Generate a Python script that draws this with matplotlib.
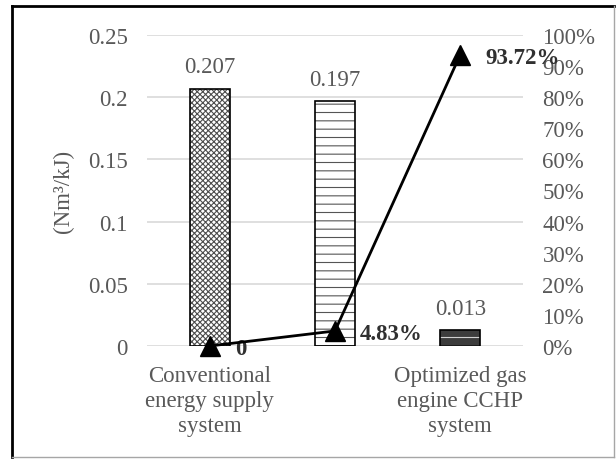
import matplotlib

matplotlib.use("Agg")

import matplotlib.pyplot as plt
from matplotlib.lines import Line2D
from matplotlib.ticker import MultipleLocator, PercentFormatter

# values
categories = ["Conventional\nenergy supply\nsystem", "", "Optimized gas\nengine CCHP\nsystem"]
consumption = [0.207, 0.197, 0.013]
consumption_labels = ["0.207", "0.197", "0.013"]
saving_rate = [0.0, 4.83, 93.72]
saving_labels = ["0", "4.83%", "93.72%"]

FONT = "Liberation Serif"
FONT_SIZE = 16.5
TICK_GRAY = "#595959"
GRID_GRAY = "#d9d9d9"

plt.rcParams["font.family"] = [FONT, "DejaVu Serif"]
plt.rcParams["font.size"] = FONT_SIZE
plt.rcParams["hatch.linewidth"] = 0.8

fig = plt.figure(figsize=(6.16, 4.60), dpi=100)
ax = fig.add_axes([0.2386, 0.2457, 0.6104, 0.676])
ax2 = ax.twinx()

x = list(range(len(categories)))
bar_width = 0.32

# bar 1: dense cross hatch, bar 2: dashes, bar 3: dark with white dashes
ax.bar(x[0], consumption[0], width=bar_width, facecolor="white",
       edgecolor="#4d4d4d", hatch="xxxxxx", linewidth=0, zorder=3)
ax.bar(x[1], consumption[1], width=bar_width, facecolor="white",
       edgecolor="#555555", hatch="--", linewidth=0, zorder=3)
ax.bar(x[2], consumption[2], width=bar_width, facecolor="#3c3c3c",
       edgecolor="#d0d0d0", hatch="--", linewidth=0, zorder=3)
ax.bar(x, consumption, width=bar_width, facecolor="none",
       edgecolor="black", linewidth=1.2, zorder=3)

for xi, val, txt in zip(x, consumption, consumption_labels):
    ax.annotate(txt, (xi, val), xytext=(0, 8), textcoords="offset points",
                ha="center", va="bottom", color=TICK_GRAY, fontsize=FONT_SIZE)

ax.set_xlim(-0.5, 2.5)
ax.set_ylim(0, 0.25)
ax.set_yticks([0, 0.05, 0.1, 0.15, 0.2, 0.25])
ax.set_yticklabels(["0", "0.05", "0.1", "0.15", "0.2", "0.25"])
ax.set_xticks(x)
ax.set_xticklabels(categories, linespacing=1.25)
ax.tick_params(axis="both", length=0, colors=TICK_GRAY, labelsize=FONT_SIZE)
ax.tick_params(axis="y", pad=14)
ax.tick_params(axis="x", pad=14)
ax.grid(axis="y", color=GRID_GRAY, linewidth=1.2, zorder=0)
ax.set_axisbelow(True)
for spine in ax.spines.values():
    spine.set_visible(False)
ax.set_ylabel("(Nm³/kJ)", color=TICK_GRAY, fontsize=FONT_SIZE, labelpad=10)

# secondary axis: saving rate line
ax2.plot(x, saving_rate, color="black", linewidth=2, marker="^",
         markersize=14, zorder=5, clip_on=False)
for xi, val, txt in zip(x, saving_rate, saving_labels):
    ax2.annotate(txt, (xi, val), xytext=(18, -2), textcoords="offset points",
                 ha="left", va="center", color="#303030", fontweight="bold",
                 fontsize=FONT_SIZE)
ax2.set_ylim(0, 100)
ax2.yaxis.set_major_locator(MultipleLocator(10))
ax2.yaxis.set_major_formatter(PercentFormatter(decimals=0))
ax2.tick_params(axis="y", length=0, colors=TICK_GRAY, labelsize=FONT_SIZE, pad=14)
for spine in ax2.spines.values():
    spine.set_visible(False)
ax.set_zorder(1)
ax2.set_zorder(2)
ax2.patch.set_visible(False)

# outer frame
fig.add_artist(Line2D([0.019, 0.019], [0.004, 0.985], color="black", linewidth=2,
                      transform=fig.transFigure))
fig.add_artist(Line2D([0.019, 0.997], [0.985, 0.985], color="black", linewidth=2,
                      transform=fig.transFigure))
fig.add_artist(Line2D([0.997, 0.997], [0.004, 0.985], color="#a6a6a6", linewidth=1,
                      transform=fig.transFigure))
fig.add_artist(Line2D([0.019, 0.997], [0.004, 0.004], color="#a6a6a6", linewidth=1,
                      transform=fig.transFigure))

fig.savefig("out.png", dpi=100)
